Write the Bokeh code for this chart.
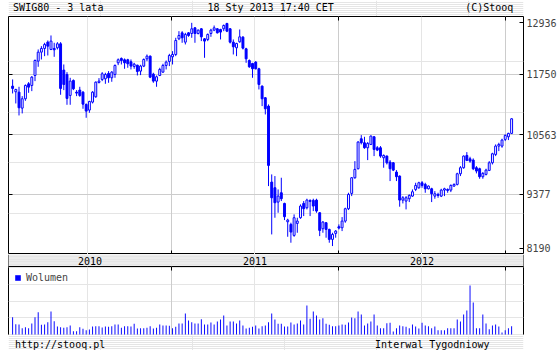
import datetime as dt
from bokeh.plotting import figure
from bokeh.layouts import column
from bokeh.models import (Range1d, FixedTicker, LinearAxis, Grid, ColumnDataSource,
                          Legend, LegendItem, Span)
from bokeh.embed import file_html
from bokeh.resources import INLINE
from bokeh.core.properties import value

# ---------------- texts ----------------
title_left = "SWIG80 - 3 lata"
title_center = "18 Sty 2013 17:40 CET"
title_right = "(C)Stooq"
footer_left = "http://stooq.pl"
footer_right = "Interwal Tygodniowy"
volume_label = "Wolumen"

price_ticks = [8190, 9377, 10563, 11750, 12936]
year_labels = ["2010", "2011", "2012"]
year_bounds = [dt.datetime(2011, 1, 1), dt.datetime(2012, 1, 1), dt.datetime(2013, 1, 1)]

# ---------------- weekly data ----------------
first_week = dt.datetime(2010, 1, 18)
weeks = [first_week + dt.timedelta(weeks=i) for i in range(157)]

open_ = [11520, 11408, 11401, 11085, 11270, 11566, 11533, 11731, 12014, 12192,
         12265, 12390, 12245, 12265, 12278, 12357, 11837, 11751, 11336, 11632,
         11401, 11441, 11401, 11158, 11046, 11204, 11309, 11593, 11652, 11665,
         11771, 11685, 11751, 11981, 12067, 12041, 12041, 12001, 11909, 11935,
         11817, 11916, 12060, 12113, 11757, 11619, 11731, 11797, 11929, 12008,
         12100, 12146, 12456, 12574, 12390, 12574, 12561, 12673, 12561, 12654,
         12456, 12443, 12561, 12627, 12654, 12640, 12654, 12759, 12654, 12390,
         12278, 12397, 12489, 12258, 12027, 11968, 11995, 11863, 11520, 11290,
         11125, 9622, 9510, 9227, 9411, 9200, 8838, 8785, 8568, 8805,
         8917, 9200, 9115, 9260, 9260, 9266, 9016, 8700, 8818, 8686,
         8489, 8607, 8739, 8719, 8851, 9095, 9398, 9708, 9886, 10479,
         10400, 10301, 10367, 10518, 10301, 10301, 10103, 10136, 10018, 10004,
         9820, 9741, 9266, 9247, 9293, 9345, 9477, 9510, 9609, 9576,
         9490, 9490, 9345, 9378, 9345, 9464, 9477, 9464, 9543, 9576,
         9787, 9906, 10149, 10083, 10057, 9906, 9886, 9728, 9774, 9853,
         10004, 10169, 10334, 10334, 10466, 10518, 10585]
high = [11652, 11467, 11507, 11322, 11553, 11599, 11718, 12047, 12245, 12311,
        12377, 12423, 12522, 12377, 12390, 12390, 11948, 11797, 11685, 11652,
        11441, 11507, 11421, 11177, 11230, 11421, 11612, 11678, 11797, 11784,
        11817, 11817, 11948, 12067, 12087, 12067, 12060, 12047, 11981, 11942,
        11942, 12067, 12146, 12126, 11784, 11731, 11883, 11962, 12027, 12159,
        12212, 12476, 12607, 12607, 12574, 12588, 12772, 12687, 12640, 12667,
        12469, 12561, 12654, 12719, 12667, 12654, 12739, 12772, 12667, 12443,
        12377, 12640, 12509, 12278, 12047, 11981, 12014, 11883, 11533, 11303,
        11158, 9774, 9741, 9477, 9708, 9214, 8897, 8818, 8983, 8917,
        9181, 9247, 9293, 9280, 9293, 9293, 9029, 8851, 8831, 8700,
        8620, 8673, 8785, 8930, 9115, 9411, 9721, 10037, 10433, 10551,
        10518, 10413, 10545, 10532, 10334, 10334, 10169, 10149, 10057, 10018,
        9859, 9754, 9345, 9345, 9378, 9477, 9609, 9629, 9642, 9609,
        9556, 9510, 9444, 9411, 9490, 9510, 9497, 9576, 9596, 9807,
        9938, 10149, 10215, 10123, 10090, 9938, 9906, 9820, 9886, 10037,
        10202, 10367, 10400, 10479, 10565, 10598, 10887]
low = [11375, 11177, 10940, 10980, 11230, 11388, 11421, 11619, 11902, 12047,
       12113, 12126, 12232, 12100, 12245, 11349, 11441, 11151, 11151, 11441,
       11322, 11309, 11072, 10894, 10993, 11177, 11290, 11573, 11619, 11566,
       11586, 11606, 11685, 11935, 11948, 11863, 11883, 11850, 11863, 11731,
       11738, 11896, 12014, 11678, 11586, 11507, 11718, 11784, 11850, 11916,
       11948, 12113, 12430, 12377, 12344, 12495, 12476, 12377, 12542, 12410,
       12080, 12410, 12495, 12607, 12561, 12443, 12607, 12588, 12364, 12146,
       12113, 12377, 12245, 11981, 11883, 11685, 11850, 11454, 11125, 10960,
       9543, 8587, 8917, 9016, 9247, 8871, 8541, 8423, 8541, 8620,
       8897, 8950, 9082, 8950, 9049, 9016, 8554, 8620, 8522, 8423,
       8357, 8522, 8686, 8653, 8818, 9069, 9345, 9688, 9873, 10367,
       10281, 10057, 10354, 10136, 10235, 10103, 9906, 9971, 9642, 9840,
       9642, 9135, 9200, 9082, 9227, 9332, 9444, 9490, 9510, 9411,
       9477, 9227, 9293, 9312, 9326, 9345, 9411, 9424, 9530, 9556,
       9741, 9886, 10037, 10004, 9859, 9794, 9688, 9688, 9754, 9840,
       9971, 10136, 10235, 10301, 10433, 10453, 10572]
close = [11474, 11454, 11092, 11270, 11533, 11500, 11698, 12027, 12192, 12265,
         12344, 12311, 12410, 12238, 12357, 11474, 11553, 11276, 11619, 11467,
         11382, 11336, 11164, 11026, 11217, 11401, 11599, 11619, 11764, 11751,
         11685, 11797, 11929, 12041, 12027, 11981, 11962, 11916, 11955, 11810,
         11916, 12047, 12113, 11698, 11619, 11705, 11850, 11929, 11995, 12126,
         12146, 12423, 12522, 12476, 12542, 12522, 12654, 12561, 12627, 12495,
         12410, 12542, 12627, 12673, 12574, 12588, 12719, 12607, 12390, 12298,
         12364, 12495, 12271, 12060, 11902, 11863, 11863, 11553, 11270, 11072,
         9952, 9312, 9214, 9345, 9293, 8937, 8871, 8634, 8917, 8851,
         9148, 9095, 9266, 9240, 9148, 9049, 8667, 8831, 8686, 8489,
         8587, 8653, 8713, 8851, 9095, 9378, 9708, 9873, 10413, 10400,
         10301, 10387, 10532, 10268, 10255, 10136, 10149, 10004, 9886, 9859,
         9728, 9266, 9312, 9312, 9359, 9431, 9556, 9609, 9556, 9490,
         9543, 9391, 9391, 9359, 9464, 9490, 9457, 9556, 9576, 9787,
         9906, 10136, 10051, 10037, 9886, 9840, 9728, 9794, 9859, 10004,
         10182, 10334, 10367, 10453, 10545, 10585, 10874]
volume = [52, 31, 30, 19, 22, 19, 33, 52, 67, 29,
          30, 37, 69, 40, 24, 22, 20, 22, 27, 10,
          10, 22, 17, 13, 15, 24, 25, 25, 21, 24,
          23, 25, 30, 30, 20, 25, 25, 24, 32, 18,
          19, 19, 20, 25, 18, 20, 30, 27, 27, 26,
          19, 23, 33, 33, 63, 42, 37, 33, 33, 46,
          30, 30, 36, 30, 39, 45, 57, 27, 39, 39,
          33, 42, 27, 18, 20, 23, 27, 18, 25, 27,
          37, 63, 45, 32, 32, 24, 24, 36, 30, 33,
          42, 30, 87, 47, 69, 57, 45, 49, 32, 29,
          25, 25, 27, 30, 29, 36, 51, 49, 69, 60,
          27, 33, 39, 60, 27, 19, 19, 34, 35, 9,
          19, 27, 25, 23, 19, 30, 24, 18, 35, 27,
          25, 19, 24, 13, 13, 13, 19, 19, 19, 45,
          39, 60, 72, 147, 96, 19, 19, 60, 33, 16,
          27, 30, 24, 6, 13, 19, 25]

# ---------------- style ----------------
FONT = "DejaVu Sans Mono"
FS = "10px"
BLUE = "#0000ff"
GRID = "#cccccc"
W = 560
LEFT, RIGHT = 8, 37
H_HEAD, H_PRICE, H_BAND, H_VOL, H_FOOT = 16, 238, 12, 69, 15
EPOCH = dt.datetime(1970, 1, 1)
DAY_MS = 86400000.0


def ms(d):
    return (d - EPOCH).total_seconds() * 1000.0


x_start = weeks[0] - dt.timedelta(days=9)
x_end = weeks[-1] + dt.timedelta(days=26)
xr = Range1d(start=x_start, end=x_end)
year_ms = [ms(d) for d in year_bounds]
week_ms = 7 * DAY_MS


def text_strip(h):
    f = figure(width=W, height=h, x_range=Range1d(0, W), y_range=Range1d(0, h),
               toolbar_location=None, output_backend="svg",
               x_axis_location=None, y_axis_location=None, min_border=0)
    f.outline_line_color = None
    f.background_fill_color = "white"
    f.border_fill_color = "white"
    return f


def put_text(f, x, y, s, align):
    f.text(x=[x], y=[y], text=[s], text_font=value(FONT), text_font_size=FS,
           text_color="black", text_align=align, text_baseline="middle")


def inner_axis(ticks, labels=None):
    ax = LinearAxis(ticker=FixedTicker(ticks=ticks), major_tick_in=4, major_tick_out=0,
                    minor_tick_line_color=None, axis_line_color=None,
                    major_tick_line_color="black", major_label_text_font=FONT)
    if labels is None:
        ax.major_label_text_font_size = "0px"
        ax.major_label_standoff = 0
        ax.major_label_overrides = {t: "" for t in ticks}
    else:
        ax.major_label_text_font_size = FS
        ax.major_label_standoff = 3
        ax.major_label_overrides = labels
    return ax


def panel(h, y_range):
    f = figure(width=W, height=h, x_range=xr, y_range=y_range,
               toolbar_location=None, output_backend="svg",
               x_axis_location=None, y_axis_location=None,
               min_border_left=LEFT, min_border_right=RIGHT,
               min_border_top=0, min_border_bottom=0)
    f.outline_line_color = "black"
    f.outline_line_width = 1
    f.background_fill_color = "white"
    f.border_fill_color = "white"
    return f


# ---------------- header ----------------
head = text_strip(H_HEAD)
put_text(head, 5, 9, title_left, "left")
put_text(head, 285, 9, title_center, "center")
put_text(head, 549, 9, title_right, "right")

# ---------------- price panel ----------------
y_lo, y_hi = 8190, 12897
p = panel(H_PRICE, Range1d(y_lo, y_hi))

inner_ticks = [t for t in price_ticks if y_lo < t < y_hi]
units_per_px = (y_hi - y_lo) / H_PRICE
inset = 6 * units_per_px
label_pos = [int(round(min(max(t, y_lo + inset), y_hi - inset))) for t in price_ticks]
overrides = {pos: str(t) for pos, t in zip(label_pos, price_ticks)}

p.add_layout(Grid(dimension=1, ticker=FixedTicker(ticks=inner_ticks), grid_line_color=GRID))
p.add_layout(Grid(dimension=0, ticker=FixedTicker(ticks=year_ms), grid_line_color=GRID))
p.add_layout(inner_axis(label_pos, overrides), "right")
p.add_layout(inner_axis(inner_ticks), "left")
p.add_layout(inner_axis(year_ms), "above")
p.add_layout(inner_axis(year_ms), "below")

src = ColumnDataSource(dict(
    date=weeks, open=open_, high=high, low=low, close=close,
    top=[max(o, c) for o, c in zip(open_, close)],
    bottom=[min(o, c) for o, c in zip(open_, close)],
    fill=[BLUE if c < o else "white" for o, c in zip(open_, close)],
))
p.segment(x0="date", y0="high", x1="date", y1="low", source=src, line_color=BLUE, line_width=1)
p.vbar(x="date", width=0.6 * week_ms, top="top", bottom="bottom", source=src,
       fill_color="fill", line_color=BLUE, line_width=1)

# ---------------- year band ----------------
band = panel(H_BAND, Range1d(0, 1))
band.outline_line_color = None
band.background_fill_color = "#ececec"
for edge in (ms(x_start), ms(x_end)):
    band.add_layout(Span(location=edge, dimension="height", line_color="black", line_width=1))
x0_ms, x1_ms = ms(x_start), ms(x_end)
edges = [x0_ms] + year_ms + [x1_ms]
mids = [(max(a, x0_ms) + min(b, x1_ms)) / 2 for a, b in zip(edges[:-1], edges[1:])][:len(year_labels)]
band.text(x=mids, y=[0.5] * len(mids), text=year_labels, text_font=value(FONT),
          text_font_size=FS, text_color="black", text_align="center", text_baseline="middle")

# ---------------- volume panel ----------------
v = panel(H_VOL, Range1d(-3, 204))
v.add_layout(Grid(dimension=0, ticker=FixedTicker(ticks=year_ms), grid_line_color=GRID))
v.add_layout(inner_axis(year_ms), "above")
vsrc = ColumnDataSource(dict(date=weeks, volume=volume))
vr = v.vbar(x="date", width=0.3 * week_ms, top="volume", bottom=0, source=vsrc,
            fill_color=BLUE, line_color=None)
leg = Legend(items=[LegendItem(label=volume_label, renderers=[vr])], location="top_left",
             glyph_width=7, glyph_height=7, label_standoff=5, label_text_font=FONT,
             label_text_font_size=FS, label_height=7, padding=0, margin=6, spacing=0,
             border_line_color=None, background_fill_alpha=0)
v.add_layout(leg)

# ---------------- footer ----------------
foot = text_strip(H_FOOT)
put_text(foot, 7, 6, footer_left, "left")
put_text(foot, 523, 6, footer_right, "right")

layout = column(head, p, band, v, foot, spacing=0)
open("out.html", "w").write(file_html(layout, INLINE))
